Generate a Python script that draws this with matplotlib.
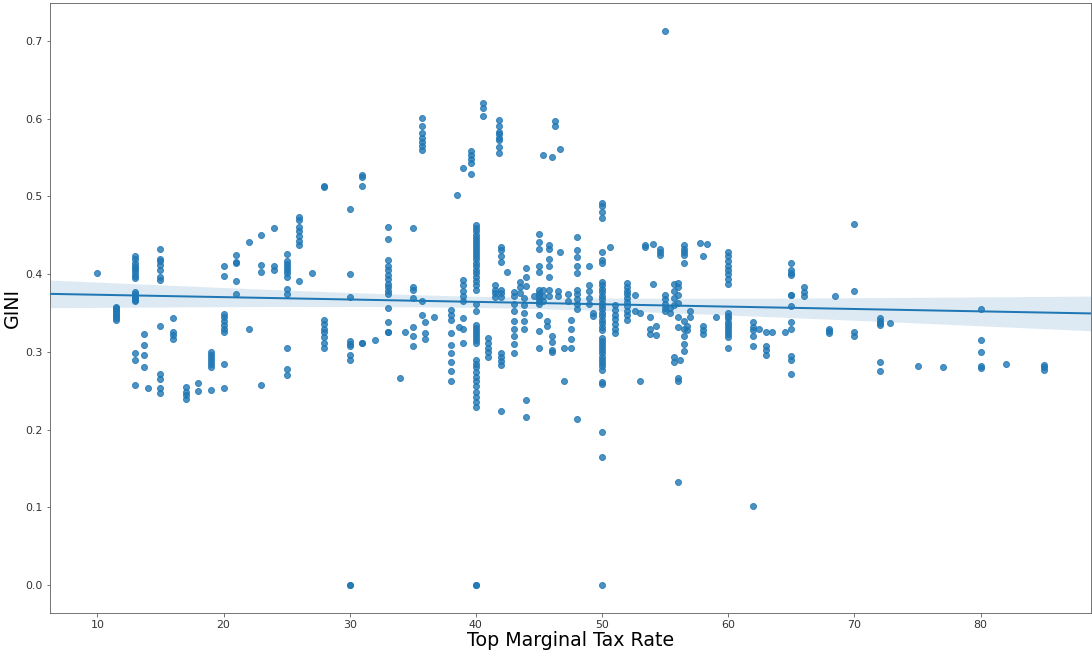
import matplotlib
matplotlib.use("Agg")
import matplotlib.pyplot as plt
import numpy as np

# top marginal tax rate (x) -> GINI values (y), grouped by column of points
rate_low = [10, 11.5, 13, 13.7, 14, 15, 16, 17, 18, 19, 20, 21, 22, 23, 24, 25, 26, 27, 28]
gini_low = [
    [0.401],
    [0.358, 0.356, 0.354, 0.352, 0.350, 0.348, 0.346, 0.343, 0.341],
    [0.423, 0.419, 0.415, 0.411, 0.408, 0.405, 0.401, 0.398, 0.395,
     0.377, 0.374, 0.371, 0.369, 0.367, 0.365, 0.298, 0.289, 0.257],
    [0.323, 0.309, 0.296, 0.281],
    [0.254],
    [0.432, 0.420, 0.417, 0.412, 0.405, 0.397, 0.393, 0.333, 0.271, 0.265, 0.253, 0.247],
    [0.343, 0.326, 0.322, 0.316],
    [0.255, 0.249, 0.245, 0.240],
    [0.260, 0.250],
    [0.300, 0.296, 0.292, 0.288, 0.284, 0.280, 0.251],
    [0.411, 0.398, 0.349, 0.345, 0.340, 0.335, 0.330, 0.326, 0.284, 0.254],
    [0.425, 0.416, 0.414, 0.391, 0.375],
    [0.442, 0.330],
    [0.450, 0.412, 0.403, 0.258],
    [0.459, 0.410, 0.405],
    [0.426, 0.417, 0.413, 0.409, 0.405, 0.401, 0.397, 0.381, 0.375, 0.305, 0.278, 0.270],
    [0.474, 0.470, 0.461, 0.455, 0.449, 0.443, 0.438, 0.391],
    [0.402],
    [0.514, 0.512, 0.341, 0.336, 0.330, 0.325, 0.319, 0.312, 0.305],
]

rate_mid = [30, 31, 32, 33, 34, 34.4, 35, 35.7, 36, 36.7, 38, 38.5, 38.7, 39, 39.6]
gini_mid = [
    [0.484, 0.400, 0.371, 0.314, 0.310, 0.307, 0.296, 0.290, 0.0, 0.0],
    [0.528, 0.525, 0.514, 0.311, 0.311],
    [0.315],
    [0.461, 0.445, 0.418, 0.410, 0.405, 0.399, 0.394, 0.388, 0.383, 0.378,
     0.375, 0.356, 0.338, 0.325, 0.325],
    [0.266],
    [0.325],
    [0.460, 0.384, 0.380, 0.369, 0.332, 0.320, 0.307],
    [0.601, 0.590, 0.582, 0.575, 0.570, 0.565, 0.560, 0.366, 0.347],
    [0.338, 0.324, 0.316],
    [0.345],
    [0.354, 0.347, 0.341, 0.324, 0.309, 0.298, 0.287, 0.275, 0.263],
    [0.502],
    [0.332],
    [0.537, 0.393, 0.386, 0.379, 0.372, 0.366, 0.343, 0.330, 0.311],
    [0.558, 0.553, 0.548, 0.543, 0.529],
]

rate_40s = [40, 40.6, 41, 41.5, 41.8, 42, 42.5, 43, 43.5, 43.8, 44, 44.6, 45, 45.3,
            45.6, 45.8, 46, 46.3, 46.5, 46.7, 47, 47.3, 47.5, 48, 49, 49.3]
gini_40s = [
    [0.463, 0.459, 0.455, 0.451, 0.447, 0.443, 0.439, 0.435, 0.431, 0.427,
     0.423, 0.419, 0.415, 0.411, 0.406, 0.401, 0.396, 0.391, 0.386, 0.380,
     0.362, 0.352, 0.335, 0.331, 0.327, 0.323, 0.319, 0.315, 0.311,
     0.290, 0.285, 0.280, 0.274, 0.268, 0.262, 0.256, 0.249, 0.242, 0.235, 0.229,
     0.0, 0.0],
    [0.620, 0.614, 0.603],
    [0.318, 0.312, 0.305, 0.300, 0.294],
    [0.386, 0.380, 0.376, 0.371],
    [0.598, 0.590, 0.583, 0.580, 0.575, 0.572, 0.564, 0.556],
    [0.435, 0.431, 0.423, 0.416, 0.380, 0.376, 0.371, 0.299, 0.294, 0.288, 0.283, 0.224],
    [0.403],
    [0.377, 0.372, 0.362, 0.352, 0.340, 0.330, 0.320, 0.310, 0.298],
    [0.390, 0.383, 0.376],
    [0.370, 0.360, 0.350, 0.340, 0.330],
    [0.408, 0.397, 0.385, 0.238, 0.216],
    [0.372],
    [0.452, 0.442, 0.432, 0.410, 0.403, 0.380, 0.376, 0.373, 0.370, 0.366,
     0.362, 0.347, 0.327, 0.305],
    [0.553, 0.380, 0.372, 0.365],
    [0.340, 0.333],
    [0.438, 0.433, 0.420, 0.410, 0.397, 0.380, 0.372],
    [0.551, 0.320, 0.313, 0.302, 0.300],
    [0.597, 0.591],
    [0.378, 0.372],
    [0.561, 0.428],
    [0.305, 0.263],
    [0.375, 0.366],
    [0.341, 0.330, 0.317, 0.305],
    [0.448, 0.431, 0.422, 0.410, 0.402, 0.380, 0.374, 0.368, 0.362, 0.355, 0.214],
    [0.410, 0.386, 0.378, 0.370, 0.362],
    [0.350, 0.346],
]

rate_50s = [50, 50.6, 51, 52, 52.6, 53, 53.4, 53.8, 54, 54.3, 54.6, 55, 55.4, 55.7,
            56, 56.2, 56.5, 56.7, 57, 57.8, 58, 58.3, 59]
gini_50s = [
    [0.492, 0.488, 0.480, 0.472, 0.429, 0.418, 0.414, 0.390, 0.386, 0.381,
     0.377, 0.372, 0.368, 0.363, 0.359, 0.355, 0.350, 0.346, 0.341, 0.337,
     0.332, 0.328, 0.318, 0.314, 0.310, 0.306, 0.302, 0.298, 0.294, 0.290,
     0.286, 0.282, 0.277, 0.261, 0.259, 0.197, 0.165, 0.0],
    [0.435],
    [0.360, 0.354, 0.348, 0.342, 0.336, 0.330, 0.324],
    [0.389, 0.384, 0.379, 0.374, 0.369, 0.364, 0.359, 0.353, 0.347, 0.341],
    [0.373, 0.352],
    [0.350, 0.263],
    [0.438, 0.435],
    [0.345, 0.330, 0.323],
    [0.439, 0.388],
    [0.333, 0.322],
    [0.425, 0.429, 0.432],
    [0.713, 0.373, 0.368, 0.362, 0.357, 0.352],
    [0.356, 0.350],
    [0.387, 0.378, 0.369, 0.360, 0.293, 0.287],
    [0.389, 0.383, 0.373, 0.363, 0.345, 0.332, 0.266, 0.262, 0.133],
    [0.290],
    [0.438, 0.433, 0.428, 0.425, 0.414, 0.340, 0.330, 0.320, 0.310, 0.301],
    [0.333, 0.328],
    [0.352, 0.345],
    [0.440],
    [0.423, 0.333, 0.328, 0.323],
    [0.439],
    [0.345],
]

rate_high = [60, 62, 62.4, 63, 63.5, 64.5, 65, 66, 68, 68.5, 70, 72, 72.8, 75, 77, 80, 82, 85]
gini_high = [
    [0.429, 0.423, 0.417, 0.411, 0.405, 0.400, 0.394, 0.388, 0.350, 0.346,
     0.343, 0.339, 0.335, 0.331, 0.327, 0.323, 0.319, 0.305],
    [0.339, 0.332, 0.328, 0.320, 0.307, 0.102],
    [0.330],
    [0.326, 0.307, 0.302, 0.296],
    [0.326],
    [0.326],
    [0.415, 0.405, 0.402, 0.399, 0.373, 0.373, 0.359, 0.338, 0.329, 0.295, 0.289, 0.271],
    [0.383, 0.377, 0.372],
    [0.330, 0.327, 0.324],
    [0.372],
    [0.465, 0.379, 0.325, 0.320],
    [0.343, 0.340, 0.337, 0.334, 0.287, 0.276],
    [0.337],
    [0.282],
    [0.281],
    [0.355, 0.315, 0.300, 0.282, 0.279],
    [0.285],
    [0.283, 0.280, 0.277],
]

xs, ys = [], []
for rates, ginis in [(rate_low, gini_low), (rate_mid, gini_mid), (rate_40s, gini_40s),
                     (rate_50s, gini_50s), (rate_high, gini_high)]:
    for r, g in zip(rates, ginis):
        xs += [r] * len(g)
        ys += g
x = np.array(xs, dtype=float)
y = np.array(ys, dtype=float)

color = '#1f77b4'

fig = plt.figure(figsize=(1092 / 72, 654 / 72), dpi=72)
ax = fig.add_axes([50 / 1092, 1 - 613 / 654, 1041 / 1092, 610 / 654])

ax.scatter(x, y, s=36, color=color, alpha=0.8, linewidths=1, zorder=2)

# linear fit with 95% confidence band across the full x range
xlim = ax.get_xlim()
grid = np.linspace(xlim[0], xlim[1], 100)
b, a = np.polyfit(x, y, 1)
fit = a + b * grid
n = len(x)
resid = y - (a + b * x)
s_err = np.sqrt(np.sum(resid ** 2) / (n - 2))
se = s_err * np.sqrt(1 / n + (grid - x.mean()) ** 2 / np.sum((x - x.mean()) ** 2))
ax.fill_between(grid, fit - 1.96 * se, fit + 1.96 * se, color=color, alpha=0.15,
                linewidth=0, zorder=1)
ax.plot(grid, fit, color=color, lw=2, zorder=3)
ax.set_xlim(xlim)

ax.tick_params(labelsize=11, labelcolor='#333333', color='#555555')
for sp in ax.spines.values():
    sp.set_color('#555555')
ax.set_xlabel('Top Marginal Tax Rate', fontsize=19, labelpad=1)
ax.set_ylabel('GINI', fontsize=19)

fig.savefig('out.png', dpi=72)
